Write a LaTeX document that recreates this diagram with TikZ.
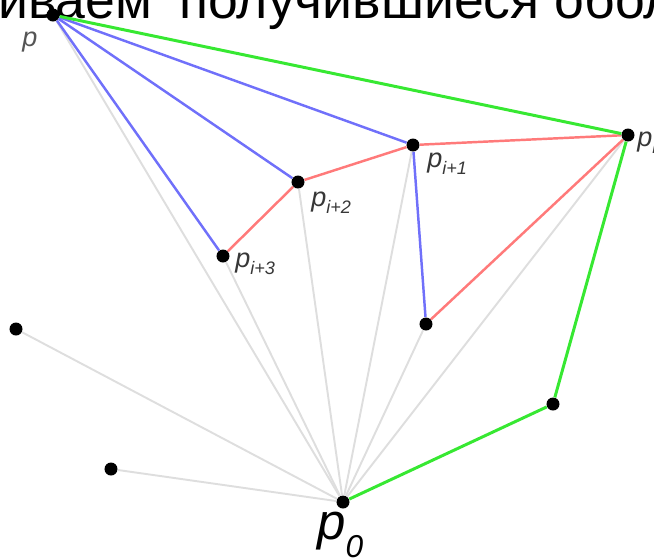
\documentclass[tikz,border=0pt]{standalone}
\usepackage{fontspec}
\setmainfont{Liberation Sans}
\usetikzlibrary{positioning}
\definecolor{hullGreen}{RGB}{55,232,50}
\definecolor{hullBlue}{RGB}{112,112,250}
\definecolor{hullRed}{RGB}{255,122,122}
\definecolor{fanGray}{RGB}{222,222,222}
\definecolor{labelGray}{RGB}{55,55,55}
\newcommand{\PtLabel}[4]{{\fontsize{#2}{#2}\selectfont\textit{p}}\raisebox{-#4}{\fontsize{#3}{#3}\selectfont\textit{#1}}}

\begin{document}
\begin{tikzpicture}[x=0.02cm,y=-0.02cm,
  dot/.style={circle,fill=black,inner sep=0pt,minimum size=7.4pt},
  ptlabel/.style={anchor=base west,inner sep=0pt,text=labelGray},
  fan/.style={draw=fanGray,line width=1.1pt},
  hull/.style={draw=hullGreen,line width=1.7pt,line join=round},
  upper/.style={draw=hullBlue,line width=1.4pt},
  lower/.style={draw=hullRed,line width=1.4pt,line join=round}]
\useasboundingbox (0,0) rectangle (654,559);
\node[anchor=base west,inner sep=0pt,font=\fontsize{30.5}{30.5}\selectfont] (title) at (-72,18.5) {сшиваем\hspace{0.5em}получившиеся оболочки};

\node[dot] (pTop) at (53,15) {};
\node[dot] (pI) at (628,135) {};
\node[dot] (pI1) at (413,145) {};
\node[dot] (pI2) at (298,182) {};
\node[dot] (pI3) at (223,256) {};
\node[dot] (pInner) at (426,324) {};
\node[dot] (pLow) at (553,404) {};
\node[dot] (pLeft) at (16,329) {};
\node[dot] (pLeftLow) at (111,469) {};
\node[dot] (pZero) at (343,502) {};

\foreach \t in {pTop,pI3,pI2,pI1,pInner,pI,pLeft,pLeftLow}
  \draw[fan] (pZero) -- (\t);

\foreach \t in {pI3,pI2,pI1}
  \draw[upper] (pTop) -- (\t);
\draw[upper] (pI1) -- (pInner);

\draw[lower] (pI3) -- (pI2) -- (pI1) -- (pI);
\draw[lower] (pInner) -- (pI);

\draw[hull] (pTop) -- (pI) -- (pLow) -- (pZero);

\node[ptlabel,text=labelGray!85] (lTop) at (22,46) {\PtLabel{}{15.4}{10.3}{4pt}};
\node[ptlabel] (lI) at (637,146) {\PtLabel{i}{15.4}{10.3}{4pt}};
\node[ptlabel] (lI1) at (427,167) {\PtLabel{i+1}{15.4}{10.3}{4pt}};
\node[ptlabel] (lI2) at (311,206) {\PtLabel{i+2}{15.4}{10.3}{4pt}};
\node[ptlabel] (lI3) at (235,267) {\PtLabel{i+3}{15.4}{10.3}{4pt}};
\node[ptlabel,text=black] (lZero) at (317,539) {\PtLabel{0}{29}{18}{10.8pt}};
\end{tikzpicture}
\end{document}
